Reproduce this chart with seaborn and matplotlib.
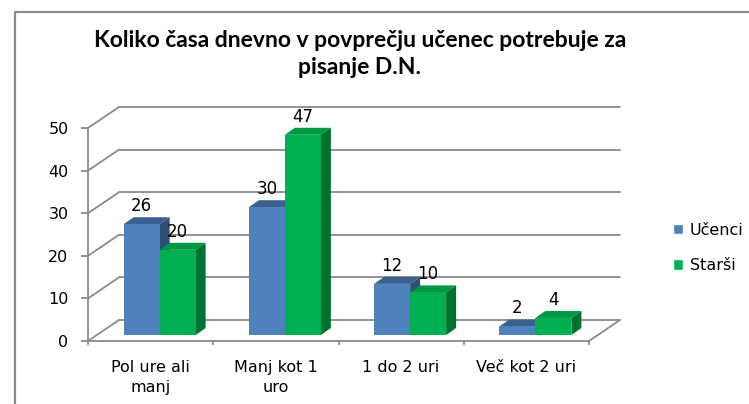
#!/usr/bin/env python

import matplotlib
matplotlib.use('Agg')
import matplotlib.pyplot as plt
from matplotlib.patches import Polygon
from matplotlib.lines import Line2D
import seaborn as sns
import pandas as pd

# data
categories = ['Pol ure ali\nmanj', 'Manj kot 1\nuro', '1 do 2 uri', 'Več kot 2 uri']
series = ['Učenci', 'Starši']
ucenci = [26, 30, 12, 2]
starsi = [20, 47, 10, 4]
yticks = [0, 10, 20, 30, 40, 50]
title = 'Koliko časa dnevno v povprečju učenec potrebuje za\npisanje D.N.'

front_colors = {'Učenci': '#4F81BD', 'Starši': '#00B050'}
top_colors = {'Učenci': '#3B6090', 'Starši': '#009843'}
side_colors = {'Učenci': '#2F4E76', 'Starši': '#00722F'}
grid_color = '#8A8A8A'

df = pd.DataFrame({
    'kategorija': categories * 2,
    'serija': [series[0]] * 4 + [series[1]] * 4,
    'vrednost': ucenci + starsi,
})

sns.set_theme(style='white')
plt.rcParams['font.family'] = ['DejaVu Sans']
plt.rcParams['text.color'] = 'black'

W, H = 749, 404
fig = plt.figure(figsize=(W / 100, H / 100), dpi=100)
ax = fig.add_axes([88 / W, 63 / H, 501 / W, 213 / H])

sns.barplot(data=df, x='kategorija', y='vrednost', hue='serija',
            palette=front_colors, width=0.575, gap=0, saturation=1,
            errorbar=None, linewidth=0, ax=ax)
ax.get_legend().remove()
ax.set_xlim(-0.5, 3.5)
ax.set_ylim(0, 50)
ax.set_xlabel('')
ax.set_ylabel('')

# pixel -> data units for the fake 3d depth
(px0, py0), (px1, py1) = ax.transData.transform([(0, 0), (1, 1)])
ux = 1 / (px1 - px0)
uy = 1 / (py1 - py0)
wall_dx, wall_dy = 31 * ux, 21 * uy     # back wall
shift_dx, shift_dy = 9 * ux, 6 * uy     # bar front plane
deep_dx, deep_dy = 10 * ux, 7 * uy      # bar depth

x_left, x_right = ax.get_xlim()
for y in yticks:
    ax.plot([x_left + wall_dx, x_right + wall_dx], [y + wall_dy] * 2,
            color=grid_color, lw=1.3, zorder=1, clip_on=False)
    ax.plot([x_left, x_left + wall_dx], [y, y + wall_dy],
            color=grid_color, lw=1.3, zorder=1, clip_on=False)
ax.plot([x_right, x_right + wall_dx], [0, wall_dy],
        color=grid_color, lw=1.3, zorder=1, clip_on=False)

for i, (name, cont) in enumerate(zip(series, ax.containers)):
    for bar in cont:
        bar.set_x(bar.get_x() + shift_dx)
        bar.set_y(shift_dy)
        bar.set_clip_on(False)
        bar.set_zorder(3 + 2 * i)
        x0 = bar.get_x()
        x1 = x0 + bar.get_width()
        y0 = bar.get_y()
        y1 = y0 + bar.get_height()
        top = Polygon([(x0, y1), (x1, y1), (x1 + deep_dx, y1 + deep_dy), (x0 + deep_dx, y1 + deep_dy)],
                      closed=True, fc=top_colors[name], ec='none', zorder=2 + 2 * i, clip_on=False)
        side = Polygon([(x1, y0), (x1 + deep_dx, y0 + deep_dy), (x1 + deep_dx, y1 + deep_dy), (x1, y1)],
                       closed=True, fc=side_colors[name], ec='none', zorder=2 + 2 * i, clip_on=False)
        ax.add_patch(top)
        ax.add_patch(side)
        ax.annotate(f'{bar.get_height():.0f}', ((x0 + x1) / 2, y1), xytext=(0, 13),
                    textcoords='offset points', ha='center', va='center',
                    fontsize=12, color='black', zorder=10, annotation_clip=False)

# axes look
for s in ['top', 'right']:
    ax.spines[s].set_visible(False)
for s in ['left', 'bottom']:
    ax.spines[s].set_color(grid_color)
    ax.spines[s].set_linewidth(1.3)
    ax.spines[s].set_zorder(1)

ax.set_yticks(yticks)
ax.tick_params(axis='y', direction='out', length=5, width=1.3, color=grid_color,
               pad=9, labelsize=11.5, labelcolor='black', left=True)
ax.set_xticks([x_left + k for k in range(5)])
ax.set_xticklabels([])
ax.set_xticks(range(len(categories)), categories, minor=True)
ax.tick_params(axis='x', which='major', direction='out', length=3, width=1.3,
               color=grid_color, bottom=True)
ax.tick_params(axis='x', which='minor', length=0, pad=14, labelsize=11.5, labelcolor='black')
for lab in ax.get_xticklabels(minor=True):
    lab.set_linespacing(1.4)

handles = [plt.Rectangle((0, 0), 1, 1, fc=front_colors[s]) for s in series]
fig.legend(handles, series, loc='center left', bbox_to_anchor=(673 / W, 1 - 248 / H),
           bbox_transform=fig.transFigure, frameon=False, fontsize=11.5,
           handlelength=0.65, handleheight=0.65, handletextpad=0.4,
           labelspacing=1.3, borderpad=0, borderaxespad=0)

fig.text(360 / W, 1 - 54 / H, title, ha='center', va='center', fontsize=16.5,
         fontweight='bold', family=['Lato', 'DejaVu Sans'], linespacing=1.4)

# chart area border (left and top edge visible)
fig.add_artist(Line2D([14.5 / W, 14.5 / W, 1], [0, 1 - 11.5 / H, 1 - 11.5 / H],
                      transform=fig.transFigure, color='#8C8C8C', lw=1.6))

fig.savefig('out.png', dpi=100)
